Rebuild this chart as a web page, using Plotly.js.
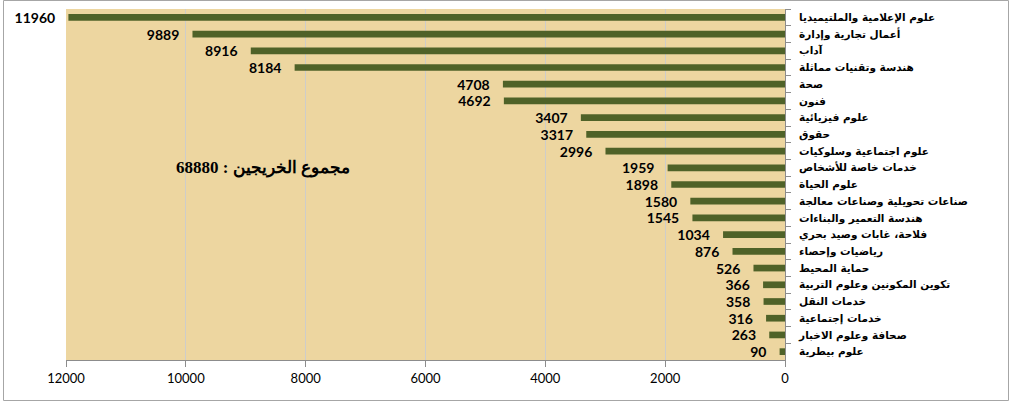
<!DOCTYPE html>
<html><head><meta charset="utf-8">
<script src="https://cdn.plot.ly/plotly-3.0.1.min.js"></script>
<style>html,body{margin:0;padding:0;background:#fff;}#chart{width:1012px;height:403px;}</style>
</head><body><div id="chart"></div>
<script>
const categories = [
  "علوم الإعلامية والملتيميديا",
  "أعمال تجارية وإدارة",
  "آداب",
  "هندسة وتقنيات مماثلة",
  "صحة",
  "فنون",
  "علوم فيزيائية",
  "حقوق",
  "علوم اجتماعية وسلوكيات",
  "خدمات خاصة للأشخاص",
  "علوم الحياة",
  "صناعات تحويلية وصناعات معالجة",
  "هندسة التعمير والبناءات",
  "فلاحة، غابات وصيد بحري",
  "رياضيات وإحصاء",
  "حماية المحيط",
  "تكوين المكونين وعلوم التربية",
  "خدمات النقل",
  "خدمات إجتماعية",
  "صحافة وعلوم الاخبار",
  "علوم بيطرية"
];
const graduates = [11960, 9889, 8916, 8184, 4708, 4692, 3407, 3317, 2996, 1959, 1898, 1580, 1545, 1034, 876, 526, 366, 358, 316, 263, 90];
const totalLabel = "مجموع الخريجين : 68880";
const xTicks = [12000, 10000, 8000, 6000, 4000, 2000, 0];

const L = 66, R = 785, T = 9, B = 360, W = 1012, H = 403;
const pw = R - L, ph = B - T;
const px = v => (v - L) / pw;
const py = v => (B - v) / ph;

const trace = {
  type: 'bar',
  orientation: 'h',
  x: graduates,
  y: categories,
  marker: {color: '#4f6228'},
  width: 0.4,
  text: graduates.map(v => v + '\u00a0\u00a0\u00a0'),
  texttemplate: '%{text}',
  textposition: 'outside',
  constraintext: 'none',
  cliponaxis: false,
  textfont: {family: 'Lato, "Open Sans", sans-serif', size: 14, color: '#000', weight: 'bold'},
  hoverinfo: 'none'
};

const layout = {
  width: W, height: H,
  margin: {l: L, r: W - R, t: T, b: H - B, pad: 0},
  paper_bgcolor: '#ffffff',
  plot_bgcolor: '#edd6a0',
  showlegend: false,
  xaxis: {
    range: [12000, 0],
    tickvals: xTicks,
    ticktext: xTicks.map(String),
    showgrid: true,
    gridcolor: 'rgba(185,198,228,0.6)',
    gridwidth: 1,
    zeroline: false,
    showline: true,
    linecolor: '#8c8c8c',
    ticks: 'outside',
    ticklen: 6,
    tickcolor: '#8c8c8c',
    tickfont: {family: 'Lato, "Open Sans", sans-serif', size: 13, color: '#000'},
    fixedrange: true
  },
  yaxis: {
    type: 'category',
    side: 'right',
    autorange: false,
    range: [categories.length - 0.5, -0.5],
    showgrid: false,
    zeroline: false,
    showline: true,
    linecolor: '#8c8c8c',
    ticks: 'outside',
    tickson: 'boundaries',
    ticklen: 5,
    tickcolor: '#8c8c8c',
    ticklabelstandoff: 11,
    tickfont: {family: '"DejaVu Sans", sans-serif', size: 10.5, color: '#000', weight: 'bold'},
    fixedrange: true
  },
  annotations: [{
    xref: 'paper', yref: 'paper',
    x: px(263), y: py(168),
    xanchor: 'center', yanchor: 'middle',
    text: totalLabel,
    showarrow: false,
    font: {family: '"Liberation Serif", "DejaVu Serif", serif', size: 17, color: '#000', weight: 'bold'}
  }],
  shapes: [{
    type: 'rect', xref: 'paper', yref: 'paper',
    x0: px(3.5), x1: px(1008.5), y0: py(400.5), y1: py(0.5),
    line: {color: '#a6a6a6', width: 1}, fillcolor: 'rgba(0,0,0,0)', layer: 'below'
  }]
};

Plotly.newPlot('chart', [trace], layout, {displayModeBar: false, staticPlot: true});
</script></body></html>
